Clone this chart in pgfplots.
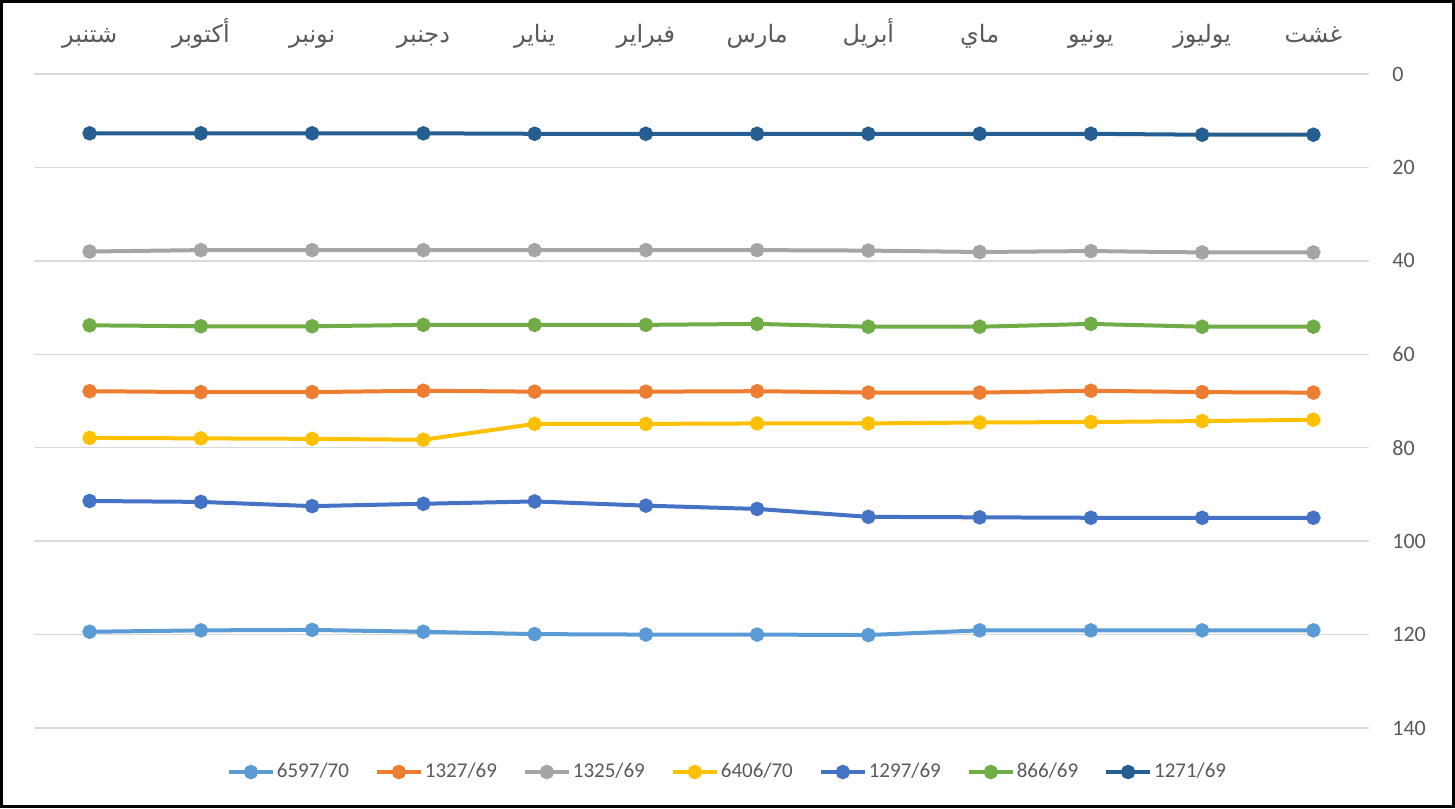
\documentclass[border=0pt]{standalone}
\usepackage{fontspec}
\setmainfont{Carlito}
\newfontfamily\arabicfont[Script=Arabic]{DejaVu Sans}
\usepackage{pgfplots}
\usepackage{pgfplotstable}
\pgfplotsset{compat=1.18}
\TeXXeTstate=1
\newcommand\ar[1]{{\arabicfont\beginR #1\endR}}
\definecolor{sA}{HTML}{5B9BD5}
\definecolor{sB}{HTML}{ED7D31}
\definecolor{sC}{HTML}{A5A5A5}
\definecolor{sD}{HTML}{FFC000}
\definecolor{sE}{HTML}{4472C4}
\definecolor{sF}{HTML}{70AD47}
\definecolor{sG}{HTML}{255E91}
\definecolor{txt}{HTML}{595959}
\definecolor{grd}{HTML}{D9D9D9}
\pgfplotstableread{
x a b c d e f g
0 119.4 67.9 38.0 77.9 91.4 53.8 12.7
1 119.1 68.1 37.7 78.0 91.6 54.0 12.7
2 119.0 68.1 37.7 78.1 92.5 54.0 12.7
3 119.4 67.8 37.7 78.3 92.0 53.7 12.7
4 119.9 68.0 37.7 74.9 91.5 53.7 12.8
5 120.0 68.0 37.7 74.9 92.4 53.7 12.8
6 120.0 67.9 37.7 74.8 93.1 53.5 12.8
7 120.1 68.2 37.8 74.8 94.8 54.1 12.8
8 119.1 68.2 38.1 74.6 94.9 54.1 12.8
9 119.1 67.8 37.9 74.5 95.0 53.5 12.8
10 119.1 68.1 38.2 74.3 95.0 54.1 13.0
11 119.1 68.2 38.2 74.0 95.0 54.1 13.0
}\data
\begin{document}
\begin{tikzpicture}
\begin{axis}[
  scale only axis, width=667.5pt, height=327pt,
  xmin=-0.5, xmax=11.5, ymin=0, ymax=140, y dir=reverse,
  xtick={0,...,11},
  xticklabels={\ar{شتنبر},\ar{أكتوبر},\ar{نونبر},\ar{دجنبر},\ar{يناير},\ar{فبراير},\ar{مارس},\ar{أبريل},\ar{ماي},\ar{يونيو},\ar{يوليوز},\ar{غشت}},
  xticklabel pos=right,
  ytick={0,20,...,140}, yticklabel pos=right,
  axis line style={draw=none}, major tick length=0pt,
  ymajorgrids, xmajorgrids=false, grid style={color=grd, line width=0.75pt},
  tick label style={color=txt},
  /pgf/number format/assume math mode=true,
  yticklabel style={font=\fontsize{11}{13}\selectfont, anchor=west, inner sep=0pt, xshift=11.5pt},
  xticklabel style={font=\fontsize{12}{14}\selectfont, anchor=base, inner sep=0pt, yshift=16pt},
  every axis plot/.append style={line width=2pt, mark=*, mark size=2.6pt},
  legend style={at={(axis description cs:0.5195,-0.0673)}, anchor=center, draw=none, fill=none,
    legend columns=-1, font=\fontsize{10.5}{12}\selectfont, text=txt,
    nodes={inner sep=1pt},
    /tikz/every even column/.append style={column sep=12pt}},
  legend image code/.code={\draw[mark repeat=2,mark phase=2] plot coordinates {(0pt,0pt) (11pt,0pt) (22pt,0pt)};},
]
\addplot[color=sA] table[x=x,y=a]{\data};
\addlegendentry{6597/70}
\addplot[color=sB] table[x=x,y=b]{\data};
\addlegendentry{1327/69}
\addplot[color=sC] table[x=x,y=c]{\data};
\addlegendentry{1325/69}
\addplot[color=sD] table[x=x,y=d]{\data};
\addlegendentry{6406/70}
\addplot[color=sE] table[x=x,y=e]{\data};
\addlegendentry{1297/69}
\addplot[color=sF] table[x=x,y=f]{\data};
\addlegendentry{866/69}
\addplot[color=sG] table[x=x,y=g]{\data};
\addlegendentry{1271/69}
\end{axis}
\draw[line width=1.5pt, black] (-16.25pt,-39.25pt) rectangle (709.75pt,363.25pt);
\end{tikzpicture}
\end{document}
